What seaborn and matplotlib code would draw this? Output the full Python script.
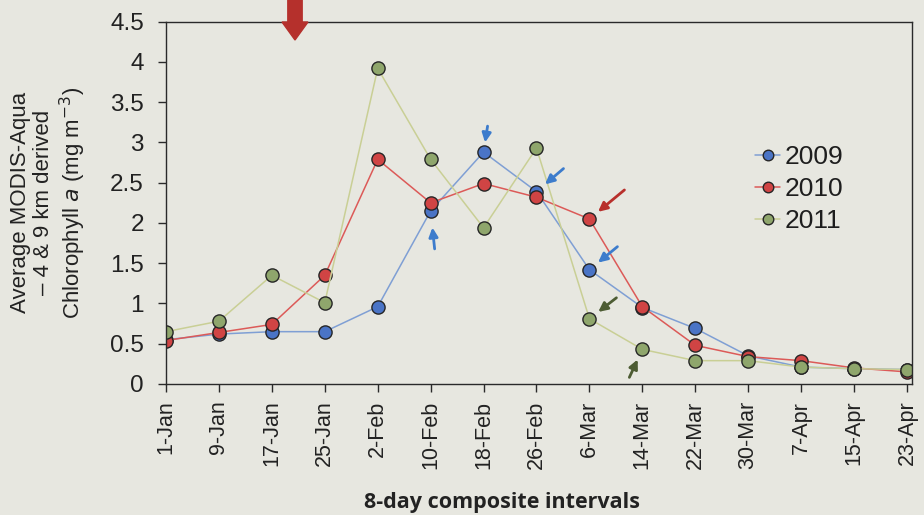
import matplotlib
matplotlib.use("Agg")
import matplotlib.pyplot as plt
import seaborn as sns
import pandas as pd

# ---- data ----
intervals = ["1-Jan", "9-Jan", "17-Jan", "25-Jan", "2-Feb", "10-Feb", "18-Feb", "26-Feb",
             "6-Mar", "14-Mar", "22-Mar", "30-Mar", "7-Apr", "15-Apr", "23-Apr"]
chl_2009 = [0.55, 0.62, 0.65, 0.65, 0.96, 2.15, 2.88, 2.39, 1.42, 0.95, 0.69, 0.35, 0.21, 0.19, 0.18]
chl_2010 = [0.54, 0.64, 0.74, 1.35, 2.79, 2.25, 2.49, 2.32, 2.05, 0.96, 0.48, 0.34, 0.29, 0.20, 0.15]
chl_2011 = [0.65, 0.78, 1.35, 1.01, 3.92, 2.79, 1.94, 2.93, 0.81, 0.43, 0.29, 0.29, 0.21, 0.19, 0.18]
years = ["2009", "2010", "2011"]
y_ticks = [0, 0.5, 1, 1.5, 2, 2.5, 3, 3.5, 4, 4.5]

series = {"2009": chl_2009, "2010": chl_2010, "2011": chl_2011}
df = pd.DataFrame([
    {"interval": iv, "chl": v, "year": yr}
    for yr in years for iv, v in zip(intervals, series[yr])
])

bg = "#e7e7e0"
line_colors = {"2009": "#7f9fd4", "2010": "#dc5a58", "2011": "#c9cf95"}
face_colors = {"2009": "#4a74c6", "2010": "#d04444", "2011": "#8fa66c"}

sns.set_theme(style="white")
plt.rcParams["font.family"] = ["Liberation Sans", "DejaVu Sans"]

fig = plt.figure(figsize=(9.24, 5.15), dpi=100, facecolor=bg)
ax = fig.add_axes([166 / 924, 1 - 384 / 515, (912 - 166) / 924, (384 - 21.7) / 515])
ax.set_facecolor(bg)

for yr in years:
    sub = df[df["year"] == yr]
    sns.lineplot(data=sub, x="interval", y="chl", sort=False, ax=ax,
                 color=line_colors[yr], linewidth=1.1, marker="o", markersize=9.5,
                 markerfacecolor=face_colors[yr], markeredgecolor="#262626",
                 markeredgewidth=1.0, label=yr)

n = len(intervals)
ax.set_xlim(0, (n - 1) + 5 / 52.9)
ax.set_ylim(0, 4.5)
ax.set_yticks(y_ticks)
ax.set_yticklabels([f"{t:g}" for t in y_ticks])
ax.set_xticks(range(n))
ax.set_xticklabels(intervals, rotation=90)

for s in ["left", "bottom", "top", "right"]:
    ax.spines[s].set_visible(True)
    ax.spines[s].set_color("#2a2a2a")
    ax.spines[s].set_linewidth(1.0)

ax.tick_params(axis="y", which="major", direction="out", length=6, width=1, color="#2a2a2a",
               labelsize=17.5, pad=10, labelcolor="#222222", left=True)
ax.tick_params(axis="x", which="major", direction="out", length=6, width=1, color="#2a2a2a",
               labelsize=15.5, pad=6, labelcolor="#222222", bottom=True)

ax.set_ylabel("Average MODIS-Aqua\n\u2013 4 & 9 km derived\nChlorophyll $\\mathit{a}$ (mg m$^{-3}$)",
              fontsize=16, color="#222222", linespacing=1.15)
ax.yaxis.label.set_va("center")
ax.yaxis.set_label_coords((49 - 166) / 746, 0.5)

ax.set_xlabel("8-day composite intervals", fontsize=15.5, fontweight="bold",
              family=["Open Sans", "DejaVu Sans"], color="#222222")
ax.xaxis.label.set_va("baseline")
ax.xaxis.set_label_coords((502 - 166) / 746, -(508 - 384) / 362)

leg = ax.legend(loc="upper left", bbox_to_anchor=(0.772, 0.695), frameon=False,
                fontsize=19, handlelength=0.95, handletextpad=0.15, labelspacing=0.3,
                borderpad=0, markerscale=0.8)
for t in leg.get_texts():
    t.set_color("#1e1e1e")

# ---- annotation arrows (from the source figure) ----
def arrow(idx, vals, dx_tail, dy_tail, gap, color):
    ax.annotate("", xy=(idx, vals[idx]), xytext=(dx_tail, dy_tail), textcoords="offset pixels",
                arrowprops=dict(arrowstyle="-|>,head_length=0.45,head_width=0.22", color=color,
                                lw=2.0, shrinkA=0, shrinkB=gap))

blue_a, red_a, green_a = "#3d7ccc", "#b8302c", "#4d5c33"
arrow(6, chl_2009, 4, 26, 7, blue_a)       # 18-Feb
arrow(5, chl_2009, 4, -38, 12, blue_a)     # 10-Feb
arrow(7, chl_2009, 27, 23, 8, blue_a)      # 26-Feb
arrow(8, chl_2010, 35, 29, 8, red_a)       # 6-Mar 2010
arrow(8, chl_2009, 28, 23, 8, blue_a)      # 6-Mar 2009
arrow(8, chl_2011, 27, 21, 8, green_a)     # 6-Mar 2011
arrow(9, chl_2011, -13, -28, 8, green_a)   # 14-Mar 2011

# large red arrow above the plot
fig.patches.append(matplotlib.patches.FancyArrow(
    295 / 924, 1.0, 0, -40 / 515, width=8 / 515, head_width=26 / 924, head_length=18 / 515,
    length_includes_head=True, transform=fig.transFigure, color="#b5302c", zorder=5))

fig.savefig("out.png", dpi=100, facecolor=bg)
